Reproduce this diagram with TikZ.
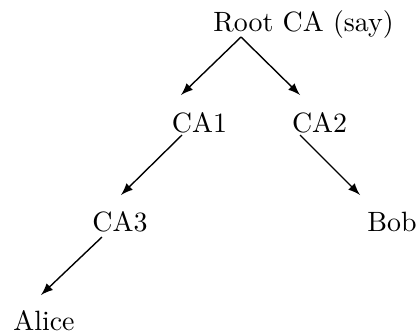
\documentclass[tikz,border=0pt]{standalone}
\usetikzlibrary{arrows}
\begin{document}
\begin{tikzpicture}[x=0.3584pt,y=-0.3584pt,
  lbl/.style={anchor=base,inner sep=0pt,outer sep=0pt},
  edge/.style={-latex,line width=0.5pt}]
\useasboundingbox (0,0) rectangle (420,333);
\node[lbl] (root) at (303.5,32) {Root CA (say)};
\node[lbl] (ca1) at (199.5,132) {CA1};
\node[lbl] (ca2) at (319.5,132) {CA2};
\node[lbl] (ca3) at (120,231) {CA3};
\node[lbl] (bob) at (392,231) {Bob};
\node[lbl] (alice) at (44,330) {Alice};
\coordinate (root-out) at (241,37);
\coordinate (ca1-in) at (181,95);
\coordinate (ca2-in) at (300,95);
\coordinate (ca1-out) at (182,135);
\coordinate (ca2-out) at (300,135);
\coordinate (ca3-in) at (121,195);
\coordinate (bob-in) at (360,195);
\coordinate (ca3-out) at (102,237);
\coordinate (alice-in) at (41,295);
\draw[edge] (root-out) -- (ca1-in);
\draw[edge] (root-out) -- (ca2-in);
\draw[edge] (ca1-out) -- (ca3-in);
\draw[edge] (ca2-out) -- (bob-in);
\draw[edge] (ca3-out) -- (alice-in);
\end{tikzpicture}
\end{document}
